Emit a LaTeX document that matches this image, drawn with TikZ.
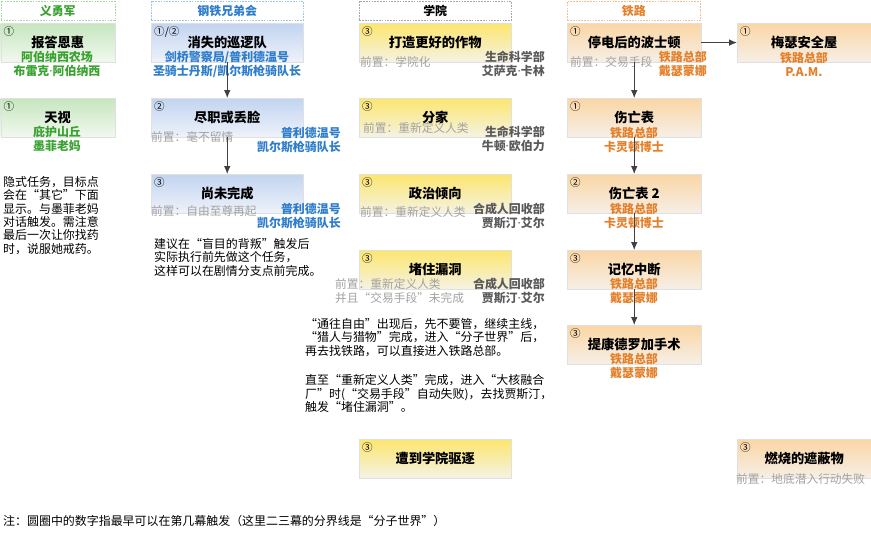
\documentclass[tikz,border=0pt]{standalone}
\usepackage{fontspec}
\setmainfont{Noto Sans CJK SC}
\newfontfamily\latinfont{Noto Sans}
\newcommand{\midot}{{\latinfont\bfseries ·}}
\usetikzlibrary{arrows.meta}

\definecolor{gtop}{HTML}{C6E6BE}
\definecolor{gbot}{HTML}{F1F8EF}
\definecolor{btop}{HTML}{C2D4F0}
\definecolor{bbot}{HTML}{EEF2FA}
\definecolor{ytop}{HTML}{FCE66E}
\definecolor{ybot}{HTML}{F5F2E4}
\definecolor{otop}{HTML}{FAD6A4}
\definecolor{obot}{HTML}{F6EFE7}
\definecolor{gtxt}{HTML}{3AA230}
\definecolor{btxt}{HTML}{2E7DCB}
\definecolor{otxt}{HTML}{E5802A}
\definecolor{dtxt}{HTML}{5A5A5A}
\definecolor{pregray}{HTML}{A2A2A2}
\definecolor{arrgray}{HTML}{404040}

\tikzset{
  hdr/.style={anchor=north west, inner sep=0pt, minimum height=0.58cm,
    draw, dash pattern=on 1.4pt off 1pt, line width=0.4pt,
    font=\bfseries\fontsize{10.2}{12}\selectfont},
  quest/.style={anchor=north west, inner sep=0pt, minimum height=1.16cm,
    draw=black!12, font=\bfseries\fontsize{11.3}{13}\selectfont},
  gq/.style={quest, minimum width=3.42cm, top color=gtop, bottom color=gbot},
  bq/.style={quest, minimum width=4.56cm, top color=btop, bottom color=bbot},
  yq/.style={quest, minimum width=4.56cm, top color=ytop, bottom color=ybot},
  oq/.style={quest, minimum width=4.02cm, top color=otop, bottom color=obot},
  num/.style={anchor=north west, inner sep=0pt, font=\fontsize{9}{10}\selectfont},
  who/.style={inner sep=0pt, align=center, font=\bfseries\fontsize{10.2}{12}\selectfont},
  whor/.style={who, anchor=east, align=right},
  pre/.style={anchor=west, inner sep=0pt, align=left, text=pregray,
    font=\fontsize{10}{12.4}\selectfont},
  memo/.style={anchor=north west, inner sep=0pt, align=left,
    font=\fontsize{10.2}{11.4}\selectfont},
  link/.style={draw=arrgray, line width=0.8pt, -{Latex[length=2.4mm,width=2mm]}}
}

\begin{document}
\begin{tikzpicture}[x=0.03cm, y=-0.03cm]
    \useasboundingbox (0,0) rectangle (871,532);

    % Column headers
    \node[hdr, draw=gtxt!45, text=gtxt, minimum width=3.42cm] (hminute) at (0.5,1) {义勇军};
    \node[hdr, draw=btxt!45, text=btxt, minimum width=4.56cm] (hbos) at (151,1) {钢铁兄弟会};
    \node[hdr, draw=black!35, minimum width=4.56cm] (hinst) at (359,1) {学院};
    \node[hdr, draw=otxt!50, text=otxt, minimum width=4.0cm] (hrail) at (567,1) {铁路};

    % Minutemen
    \node[gq] (g1) at (0.5,23) {报答恩惠};
    \node[num] (g1n) at ([shift={(3,3)}]g1.north west) {①};
    \node[who, text=gtxt] (g1w) at (57,64) {阿伯纳西农场\\布雷克\midot 阿伯纳西};

    \node[gq] (g2) at (0.5,98) {天视};
    \node[num] (g2n) at ([shift={(3,3)}]g2.north west) {①};
    \node[who, text=gtxt] (g2w) at (57,139) {庇护山丘\\墨菲老妈};

    \node[memo] (gmemo) at (3,176) {隐式任务，目标点\\会在“其它”下面\\显示。与墨菲老妈\\对话触发。需注意\\最后一次让你找药\\时，说服她戒药。};

    % Brotherhood of Steel
    \node[bq] (b1) at (151,23) {消失的巡逻队};
    \node[num] (b1n) at ([shift={(3,3)}]b1.north west) {①/②};
    \node[who, text=btxt] (b1w) at (227,64) {剑桥警察局/普利德温号\\圣骑士丹斯/凯尔斯枪骑队长};

    \node[bq] (b2) at (151,98) {尽职或丢脸};
    \node[num] (b2n) at ([shift={(3,3)}]b2.north west) {②};
    \node[pre] (b2p) at (151,137) {前置：毫不留情};
    \node[whor, text=btxt] (b2w) at (341,140) {普利德温号\\凯尔斯枪骑队长};

    \node[bq] (b3) at (151,174) {尚未完成};
    \node[num] (b3n) at ([shift={(3,3)}]b3.north west) {③};
    \node[pre] (b3p) at (151,211) {前置：自由至尊再起};
    \node[whor, text=btxt] (b3w) at (341,216) {普利德温号\\凯尔斯枪骑队长};

    \node[memo] (bmemo) at (154,238) {建议在“盲目的背叛”触发后\\实际执行前先做这个任务，\\这样可以在剧情分支点前完成。};

    % Institute
    \node[yq] (y1) at (359,23) {打造更好的作物};
    \node[num] (y1n) at ([shift={(3,3)}]y1.north west) {③};
    \node[pre] (y1p) at (360,62) {前置：学院化};
    \node[whor, text=dtxt] (y1w) at (545,64) {生命科学部\\艾萨克\midot 卡林};

    \node[yq] (y2) at (359,98) {分家};
    \node[num] (y2n) at ([shift={(3,3)}]y2.north west) {③};
    \node[pre] (y2p) at (363,128) {前置：重新定义人类};
    \node[whor, text=dtxt] (y2w) at (545,139) {生命科学部\\牛顿\midot 欧伯力};

    \node[yq] (y3) at (359,174) {政治倾向};
    \node[num] (y3n) at ([shift={(3,3)}]y3.north west) {③};
    \node[pre] (y3p) at (360,212) {前置：重新定义人类};
    \node[whor, text=dtxt] (y3w) at (545,216) {合成人回收部\\贾斯汀\midot 艾尔};

    \node[yq] (y4) at (359,250) {堵住漏洞};
    \node[num] (y4n) at ([shift={(3,3)}]y4.north west) {③};
    \node[pre] (y4p) at (335,291) {前置：重新定义人类\\并且“交易手段”未完成};
    \node[whor, text=dtxt] (y4w) at (545,291) {合成人回收部\\贾斯汀\midot 艾尔};

    \node[memo] (ymemo) at (305,318) {“通往自由”出现后，先不要管，继续主线，\\“猎人与猎物”完成，进入“分子世界”后，\\再去找铁路，可以直接进入铁路总部。\\[14pt]直至“重新定义人类”完成，进入“大核融合\\厂”时(“交易手段”自动失败)，去找贾斯汀，\\触发“堵住漏洞”。};

    \node[yq] (y5) at (359,439) {遭到学院驱逐};
    \node[num] (y5n) at ([shift={(3,3)}]y5.north west) {③};

    % Railroad
    \node[oq] (o1) at (567,23) {停电后的波士顿};
    \node[num] (o1n) at ([shift={(3,3)}]o1.north west) {①};
    \node[pre] (o1p) at (570,62) {前置：交易手段};
    \node[whor, text=otxt] (o1w) at (707,64) {铁路总部\\戴瑟蒙娜};

    \node[oq] (o2) at (737,23) {梅瑟安全屋};
    \node[num] (o2n) at ([shift={(3,3)}]o2.north west) {①};
    \node[who, text=otxt] (o2w) at (804,64) {铁路总部\\P.A.M.};

    \node[oq] (o3) at (567,98) {伤亡表};
    \node[num] (o3n) at ([shift={(3,3)}]o3.north west) {①};
    \node[who, text=otxt] (o3w) at (634,140) {铁路总部\\卡灵顿博士};

    \node[oq] (o4) at (567,174) {伤亡表 2};
    \node[num] (o4n) at ([shift={(3,3)}]o4.north west) {②};
    \node[who, text=otxt] (o4w) at (634,216) {铁路总部\\卡灵顿博士};

    \node[oq] (o5) at (567,250) {记忆中断};
    \node[num] (o5n) at ([shift={(3,3)}]o5.north west) {③};
    \node[who, text=otxt] (o5w) at (634,291) {铁路总部\\戴瑟蒙娜};

    \node[oq] (o6) at (567,325) {提康德罗加手术};
    \node[num] (o6n) at ([shift={(3,3)}]o6.north west) {③};
    \node[who, text=otxt] (o6w) at (634,366) {铁路总部\\戴瑟蒙娜};

    \node[oq] (o7) at (737,439) {燃烧的遮蔽物};
    \node[num] (o7n) at ([shift={(3,3)}]o7.north west) {③};
    \node[pre] (o7p) at (736,479) {前置：地底潜入行动失败};

    % Quest chains
    \draw[link] (b1) -- (b2);
    \draw[link] (b2) -- (b3);
    \draw[link] (o1) -- (o2);
    \draw[link] (o1) -- (o3);
    \draw[link] (o3) -- (o4);
    \draw[link] (o4) -- (o5);
    \draw[link] (o5) -- (o6);

    % Footnote
    \node[memo, anchor=west] (foot) at (3,521) {注：圆圈中的数字指最早可以在第几幕触发（这里二三幕的分界线是“分子世界”）};
\end{tikzpicture}
\end{document}
